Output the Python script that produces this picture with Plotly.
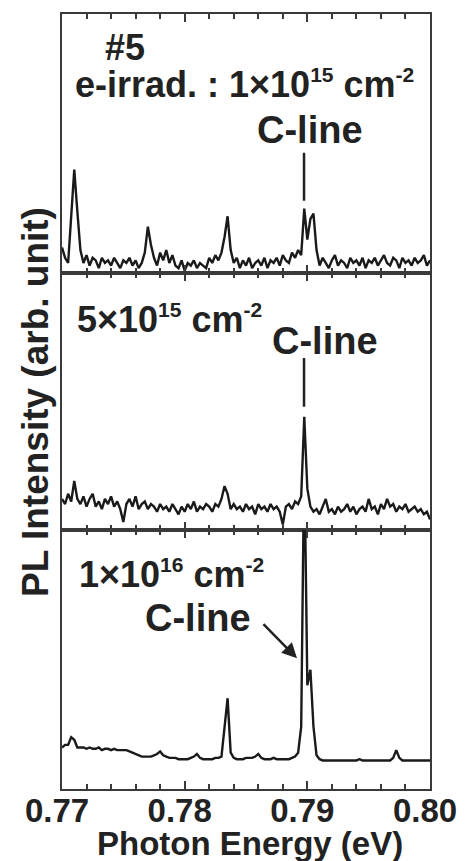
import plotly.graph_objects as go
from plotly.subplots import make_subplots

# Photon energy grid (eV), sampled every 0.25 meV
energy = [
    0.77000, 0.77025, 0.77050, 0.77075, 0.77100, 0.77125, 0.77150, 0.77175, 0.77200, 0.77225,
    0.77250, 0.77275, 0.77300, 0.77325, 0.77350, 0.77375, 0.77400, 0.77425, 0.77450, 0.77475,
    0.77500, 0.77525, 0.77550, 0.77575, 0.77600, 0.77625, 0.77650, 0.77675, 0.77700, 0.77725,
    0.77750, 0.77775, 0.77800, 0.77825, 0.77850, 0.77875, 0.77900, 0.77925, 0.77950, 0.77975,
    0.78000, 0.78025, 0.78050, 0.78075, 0.78100, 0.78125, 0.78150, 0.78175, 0.78200, 0.78225,
    0.78250, 0.78275, 0.78300, 0.78325, 0.78350, 0.78375, 0.78400, 0.78425, 0.78450, 0.78475,
    0.78500, 0.78525, 0.78550, 0.78575, 0.78600, 0.78625, 0.78650, 0.78675, 0.78700, 0.78725,
    0.78750, 0.78775, 0.78800, 0.78825, 0.78850, 0.78875, 0.78900, 0.78925, 0.78950, 0.78975,
    0.79000, 0.79025, 0.79050, 0.79075, 0.79100, 0.79125, 0.79150, 0.79175, 0.79200, 0.79225,
    0.79250, 0.79275, 0.79300, 0.79325, 0.79350, 0.79375, 0.79400, 0.79425, 0.79450, 0.79475,
    0.79500, 0.79525, 0.79550, 0.79575, 0.79600, 0.79625, 0.79650, 0.79675, 0.79700, 0.79725,
    0.79750, 0.79775, 0.79800, 0.79825, 0.79850, 0.79875, 0.79900, 0.79925, 0.79950, 0.79975,
    0.80000,
]

# PL intensity (arb. unit), dose 1e15 cm^-2
pl_1e15 = [
    10, 6, 4, 22, 40, 24, 9, 4, 7, 3,
    6, 5, 2, 6, 4, 5, 3, 6, 4, 2,
    5, 4, 6, 3, 5, 2, 4, 8, 18, 11,
    6, 3, 8, 5, 9, 4, 7, 3, 2, 5,
    1, 4, 3, 5, 2, 4, 3, 2, 6, 4,
    7, 5, 8, 14, 22, 9, 4, 6, 2, 5,
    3, 6, 2, 4, 5, 3, 6, 2, 5, 4,
    6, 3, 7, 5, 4, 8, 6, 9, 7, 25,
    13, 21, 23, 9, 3, 6, 4, 2, 5, 7,
    3, 5, 4, 2, 6, 4, 5, 3, 6, 2,
    5, 4, 6, 3, 5, 7, 4, 3, 6, 5,
    2, 6, 4, 5, 3, 6, 4, 5, 7, 3,
    5,
]

# PL intensity (arb. unit), dose 5e15 cm^-2
pl_5e15 = [
    12, 10, 14, 11, 19, 12, 10, 13, 9, 12,
    14, 9, 11, 8, 12, 10, 13, 9, 11, 8,
    3, 10, 12, 9, 13, 8, 10, 11, 8, 10,
    9, 7, 10, 8, 9, 7, 10, 8, 6, 9,
    7, 10, 8, 11, 7, 9, 8, 10, 9, 7,
    10, 9, 12, 17, 14, 8, 10, 8, 9, 7,
    10, 8, 9, 6, 10, 8, 9, 7, 10, 8,
    9, 7, 2, 9, 10, 8, 11, 10, 13, 44,
    16, 9, 7, 8, 6, 9, 12, 7, 8, 6,
    9, 7, 8, 10, 7, 9, 6, 8, 9, 7,
    12, 8, 9, 6, 10, 8, 12, 9, 10, 7,
    9, 8, 10, 7, 8, 9, 7, 8, 6, 7,
    4,
]

# PL intensity (arb. unit), dose 1e16 cm^-2 (C-line goes off scale)
pl_1e16 = [
    16, 17, 17, 20, 19, 16, 16, 16, 15.5, 16,
    15.5, 15.5, 16, 15, 15.5, 15.5, 15, 15.5, 15, 15,
    15, 15, 14.5, 14, 13.5, 13, 12.5, 12.5, 12.5, 12.5,
    13, 13.5, 14.5, 13, 12.5, 12, 12, 12, 11.5, 11.5,
    11.5, 11.5, 12, 12.5, 13.5, 12, 11.5, 11.5, 11.5, 11.5,
    12, 12, 12.5, 25, 35, 14, 12, 11.5, 11.5, 11.5,
    12, 12, 12, 12.5, 13.5, 12, 11.5, 11.5, 11.5, 12,
    11.5, 11.5, 11.5, 11.5, 11.5, 12, 12.5, 14, 24, 130,
    40, 46, 24, 13, 11.5, 11, 11, 11, 11, 11,
    11, 11, 11, 11, 11, 11, 11, 11.5, 11, 11,
    11, 11, 11, 11, 11, 11, 11, 11, 12, 15,
    12, 11, 11, 11, 11, 11, 11, 11, 11, 11,
    11,
]

tick_vals = [0.77, 0.78, 0.79, 0.80]
tick_text = ["0.77", "0.78", "0.79", "0.80"]

FONT = "Liberation Sans, Arial, sans-serif"
INK = "#222222"
FRAME = "#3a3a3a"

fig = make_subplots(rows=3, cols=1, shared_xaxes=True, vertical_spacing=0,
                    row_heights=[260, 257, 260])

for row, series in enumerate([pl_1e15, pl_5e15, pl_1e16], start=1):
    fig.add_trace(go.Scatter(x=energy, y=series, mode="lines",
                             line=dict(color="#1a1a1a", width=2.4),
                             showlegend=False, hoverinfo="skip"),
                  row=row, col=1)

xaxis_common = dict(
    range=[0.77, 0.80], tickvals=tick_vals, ticktext=tick_text,
    ticks="inside", ticklen=8, tickwidth=2, tickcolor=FRAME,
    minor=dict(dtick=0.002, tick0=0.77, ticks="inside", ticklen=5,
               tickwidth=1.5, tickcolor=FRAME),
    showline=True, linewidth=2, linecolor=FRAME, mirror="ticks",
    showgrid=False, zeroline=False,
)
yaxis_common = dict(
    range=[0, 100], showticklabels=False, ticks="", showgrid=False,
    zeroline=False, showline=True, linewidth=2, linecolor=FRAME, mirror=True,
)

for row in (1, 2, 3):
    fig.update_xaxes(row=row, col=1, showticklabels=(row == 3),
                     tickfont=dict(family=FONT, size=33, color=INK, weight="bold"),
                     ticklabelstandoff=-9, ticklabelshift=-5,
                     **xaxis_common)
    fig.update_yaxes(row=row, col=1, **yaxis_common)


def tf(size):
    return dict(family=FONT, size=size, color=INK, weight="bold")


def sup(s):
    return "<sup><span style='font-size:21px'>" + s + "</span></sup>"


annotations = [
    dict(text="#5", x=0.77514, y=87, xref="x", yref="y", showarrow=False,
         font=tf(36), xanchor="center", yanchor="middle"),
    dict(text="e-irrad. : 1×10" + sup("15") + " cm" + sup("-2"), x=0.78488, y=73,
         xref="x", yref="y", showarrow=False, font=tf(36),
         xanchor="center", yanchor="middle"),
    dict(text="C-line", x=0.79022, y=55.4, xref="x", yref="y", showarrow=False,
         font=tf(38), xanchor="center", yanchor="middle"),
    dict(text="5×10" + sup("15") + " cm" + sup("-2"), x=0.77880, y=82,
         xref="x2", yref="y2", showarrow=False, font=tf(36),
         xanchor="center", yanchor="middle"),
    dict(text="C-line", x=0.79144, y=73.5, xref="x2", yref="y2", showarrow=False,
         font=tf(38), xanchor="center", yanchor="middle"),
    dict(text="1×10" + sup("16") + " cm" + sup("-2"), x=0.77889, y=83,
         xref="x3", yref="y3", showarrow=False, font=tf(36),
         xanchor="center", yanchor="middle"),
    dict(text="C-line", x=0.78109, y=66, xref="x3", yref="y3", showarrow=False,
         font=tf(38), xanchor="center", yanchor="middle"),
    dict(text="", x=0.78916, y=50.4, xref="x3", yref="y3",
         ax=0.78630, ay=64.2, axref="x3", ayref="y3",
         showarrow=True, arrowhead=2, arrowsize=1.2, arrowwidth=2.5,
         arrowcolor=INK),
    dict(text="PL Intensity (arb. unit)", x=-0.0707, y=0.4994, xref="paper",
         yref="paper", textangle=-90, showarrow=False, font=tf(37),
         xanchor="center", yanchor="middle"),
    dict(text="Photon Energy (eV)", x=0.512, y=-0.0704, xref="paper",
         yref="paper", showarrow=False, font=tf(33),
         xanchor="center", yanchor="middle"),
]

shapes = [
    dict(type="line", xref="x", yref="y", x0=0.78973, x1=0.78973, y0=28, y1=46.5,
         line=dict(color=INK, width=2.5)),
    dict(type="line", xref="x2", yref="y2", x0=0.78973, x1=0.78973, y0=48, y1=67,
         line=dict(color=INK, width=2.5)),
]

# The page body adds an 8 px offset; size the figure so the plot box lands
# at the reference position inside the 469x861 window.
fig.update_layout(
    width=461, height=853,
    margin=dict(l=54, r=39, t=4, b=72),
    paper_bgcolor="white", plot_bgcolor="white",
    annotations=annotations, shapes=shapes,
    showlegend=False,
)

fig.write_html("out.html")
